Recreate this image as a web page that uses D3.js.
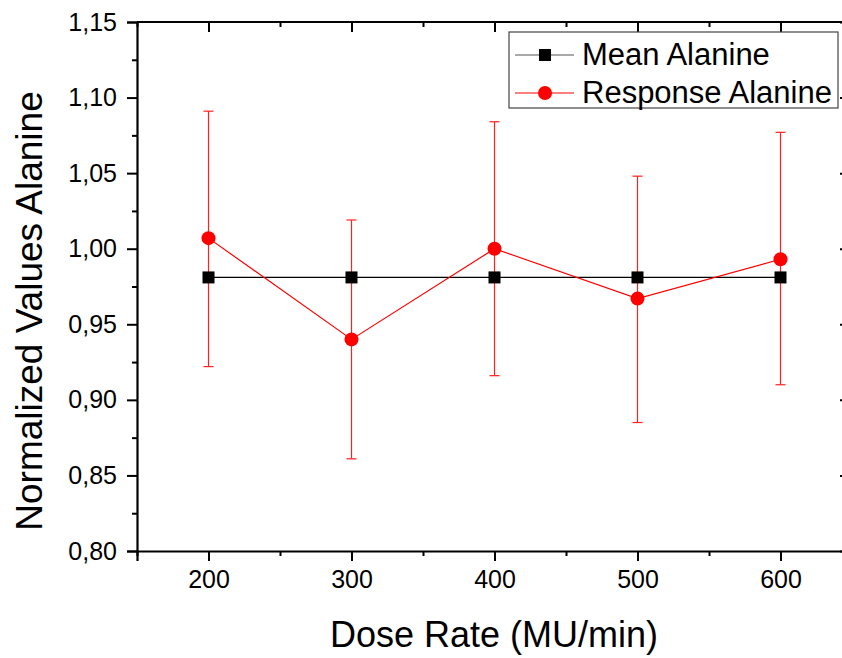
<!DOCTYPE html>
<html>
<head>
<meta charset="utf-8">
<script src="https://cdn.jsdelivr.net/npm/d3@7"></script>
<style>
body { margin: 0; background: #fff; }
text { font-family: "Liberation Sans", Arial, sans-serif; }
</style>
</head>
<body>
<div id="chart"></div>
<script>
const doseRates = [200, 300, 400, 500, 600];
const meanAlanine = [0.981, 0.981, 0.981, 0.981, 0.981];
const responseAlanine = [1.007, 0.940, 1.000, 0.967, 0.993];
const errLow = [0.922, 0.861, 0.916, 0.885, 0.910];
const errHigh = [1.091, 1.019, 1.084, 1.048, 1.077];
const yTicks = [0.80, 0.85, 0.90, 0.95, 1.00, 1.05, 1.10, 1.15];
const legendNames = ["Mean Alanine", "Response Alanine"];

const W = 842, H = 658;
const pLeft = 137, pRight = 852, pTop = 22, pBottom = 551;

const svg = d3.select("#chart").append("svg").attr("width", W).attr("height", H);

const x = d3.scaleLinear().domain([150, 650]).range([pLeft, pRight]);
const y = d3.scaleLinear().domain([0.80, 1.15]).range([pBottom, pTop]);

const fmt = d => d3.format(".2f")(d).replace(".", ",");

// axes
const xMinor = d3.range(150, 651, 50).filter(v => doseRates.indexOf(v) < 0);
const yMinor = d3.range(0, 7).map(i => 0.825 + i * 0.05);

const gx = svg.append("g").attr("transform", "translate(0," + pBottom + ")")
  .call(d3.axisBottom(x).tickValues(doseRates).tickSize(10).tickPadding(9).tickFormat(d3.format("d")));
const gxm = svg.append("g").attr("transform", "translate(0," + pBottom + ")")
  .call(d3.axisBottom(x).tickValues(xMinor).tickSize(5).tickFormat(""));
const gxt = svg.append("g").attr("transform", "translate(0," + pTop + ")")
  .call(d3.axisBottom(x).tickValues(doseRates).tickSize(10).tickFormat(""));
const gxtm = svg.append("g").attr("transform", "translate(0," + pTop + ")")
  .call(d3.axisBottom(x).tickValues(xMinor).tickSize(5).tickFormat(""));

const gy = svg.append("g").attr("transform", "translate(" + pLeft + ",0)")
  .call(d3.axisLeft(y).tickValues(yTicks).tickSize(10).tickPadding(10).tickFormat(fmt));
const gym = svg.append("g").attr("transform", "translate(" + pLeft + ",0)")
  .call(d3.axisLeft(y).tickValues(yMinor).tickSize(5).tickFormat(""));
const gyr = svg.append("g").attr("transform", "translate(" + (pRight - 2) + ",0)")
  .call(d3.axisLeft(y).tickValues(yTicks).tickSize(10).tickFormat(""));
const gyrm = svg.append("g").attr("transform", "translate(" + (pRight - 2) + ",0)")
  .call(d3.axisLeft(y).tickValues(yMinor).tickSize(5).tickFormat(""));

[gx, gxm, gxt, gxtm, gy, gym, gyr, gyrm].forEach(g => {
  g.selectAll("path.domain").attr("stroke-width", 2.2);
  g.selectAll(".tick line").attr("stroke-width", 2);
  g.selectAll("text").attr("font-size", 25).attr("fill", "#000")
    .attr("font-family", "'Liberation Sans', Arial, sans-serif");
});
[gxm, gxt, gxtm, gym, gyr, gyrm].forEach(g => g.select("path.domain").remove());
svg.append("line").attr("x1", pLeft).attr("x2", pRight).attr("y1", pTop).attr("y2", pTop)
  .attr("stroke", "#000").attr("stroke-width", 2.2);

// mean line
const line = d3.line().x(d => x(d[0])).y(d => y(d[1]));
svg.append("path").datum(doseRates.map((d, i) => [d, meanAlanine[i]]))
  .attr("d", line).attr("fill", "none").attr("stroke", "#000").attr("stroke-width", 1.2);

// error bars
const eb = svg.append("g").attr("stroke", "#ff2020").attr("stroke-width", 1.2);
doseRates.forEach((d, i) => {
  eb.append("line").attr("x1", x(d)).attr("x2", x(d)).attr("y1", y(errLow[i])).attr("y2", y(errHigh[i]));
  eb.append("line").attr("x1", x(d) - 5).attr("x2", x(d) + 5).attr("y1", y(errLow[i])).attr("y2", y(errLow[i]));
  eb.append("line").attr("x1", x(d) - 5).attr("x2", x(d) + 5).attr("y1", y(errHigh[i])).attr("y2", y(errHigh[i]));
});

svg.selectAll("rect.mean").data(doseRates).enter().append("rect").attr("class", "mean")
  .attr("x", d => x(d) - 6).attr("y", (d, i) => y(meanAlanine[i]) - 6)
  .attr("width", 12).attr("height", 12).attr("fill", "#000");

svg.append("path").datum(doseRates.map((d, i) => [d, responseAlanine[i]]))
  .attr("d", line).attr("fill", "none").attr("stroke", "#ff0000").attr("stroke-width", 1.2);
svg.selectAll("circle.resp").data(doseRates).enter().append("circle").attr("class", "resp")
  .attr("cx", d => x(d)).attr("cy", (d, i) => y(responseAlanine[i])).attr("r", 7)
  .attr("fill", "#ff0000");

// legend
const lg = svg.append("g");
lg.append("rect").attr("x", 509).attr("y", 32).attr("width", 329).attr("height", 76)
  .attr("fill", "#fff").attr("stroke", "#444").attr("stroke-width", 1.2);
legendNames.forEach((n, i) => {
  const ly = 55 + i * 38;
  lg.append("line").attr("x1", 515).attr("x2", 574).attr("y1", ly).attr("y2", ly)
    .attr("stroke", i == 0 ? "#555" : "#ff0000").attr("stroke-width", 1.2);
  if (i == 0) lg.append("rect").attr("x", 539).attr("y", ly - 6).attr("width", 12).attr("height", 12).attr("fill", "#000");
  else lg.append("circle").attr("cx", 545).attr("cy", ly).attr("r", 7).attr("fill", "#ff0000");
  lg.append("text").attr("x", 582).attr("y", ly + 10).attr("font-size", 31).attr("fill", "#000").text(n);
});

// axis titles
svg.append("text").attr("x", 494).attr("y", 647).attr("text-anchor", "middle")
  .attr("font-size", 36).text("Dose Rate (MU/min)");
svg.append("text").attr("transform", "translate(42,311) rotate(-90)")
  .attr("text-anchor", "middle").attr("font-size", 37).text("Normalized Values Alanine");
</script>
</body>
</html>
